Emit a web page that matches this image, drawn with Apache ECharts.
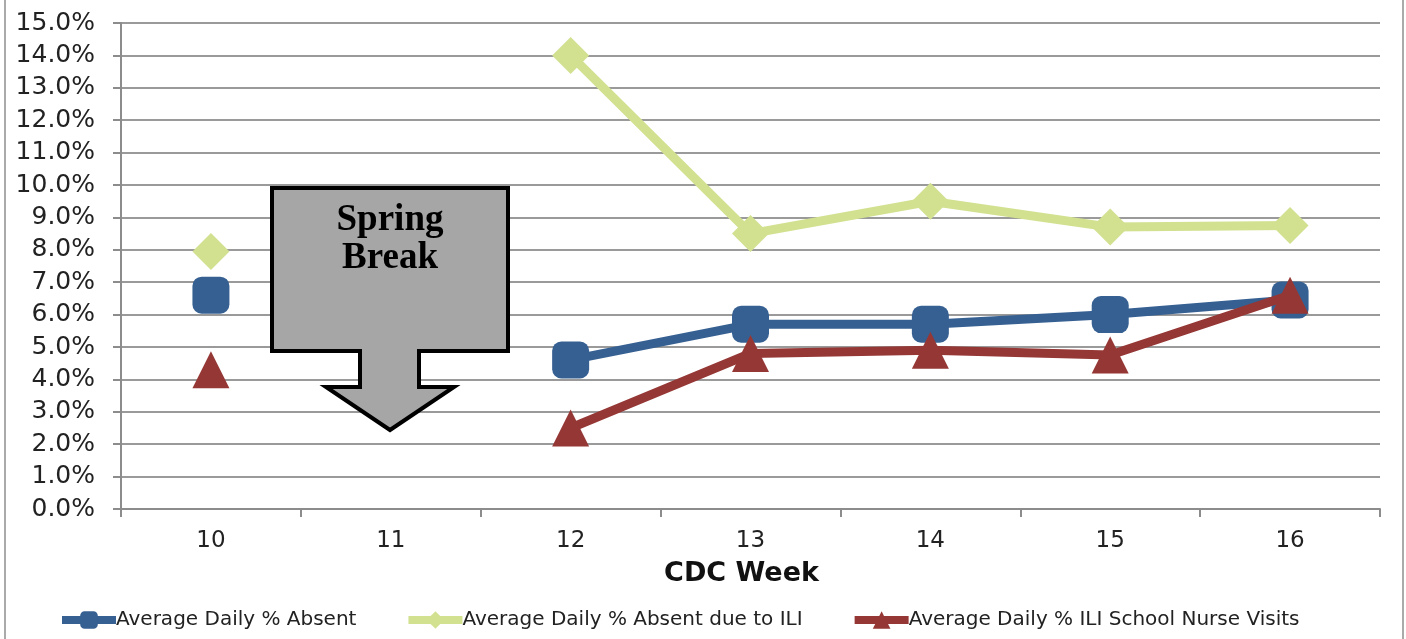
<!DOCTYPE html>
<html><head><meta charset="utf-8">
<script src="https://cdn.jsdelivr.net/npm/echarts@6/dist/echarts.min.js"></script>
<style>html,body{margin:0;padding:0;background:#fff}#c{width:1406px;height:639px}</style>
</head><body><div id="c"></div>
<script>
const weeks = ['10','11','12','13','14','15','16'];
const absent = [6.6, null, 4.6, 5.7, 5.7, 6.0, 6.45];
const absentILI = [7.95, null, 14.0, 8.5, 9.5, 8.7, 8.75];
const nurseVisits = [4.3, null, 2.5, 4.8, 4.9, 4.75, 6.6];
const seriesNames = ['Average Daily % Absent','Average Daily % Absent due to ILI','Average Daily % ILI School Nurse Visits'];
const yTickFormat = v => v.toFixed(1) + '%';

const chart = echarts.init(document.getElementById('c'));
const font = 'DejaVu Sans, Verdana, sans-serif';
chart.setOption({
  animation: false,
  backgroundColor: '#fff',
  grid: {left: 121, right: 26, top: 23, bottom: 130, containLabel: false},
  legend: {
    bottom: 4, left: 53, itemGap: 48, itemWidth: 54, itemHeight: 22,
    lineStyle: {width: 8},
    textStyle: {fontFamily: font, fontSize: 20, color: '#222', padding: [0,0,0,-5]},
    data: seriesNames
  },
  xAxis: {
    type: 'category', data: weeks, boundaryGap: true,
    name: 'CDC Week', nameLocation: 'middle', nameGap: 51,
    nameTextStyle: {fontFamily: font, fontSize: 27, fontWeight: 'bold', color: '#111', padding: [0, 18, 0, 0]},
    axisLine: {lineStyle: {color: '#8c8c8c', width: 2}},
    axisTick: {show: true, length: 8, alignWithLabel: false, lineStyle: {color: '#8c8c8c', width: 2}},
    axisLabel: {fontFamily: font, fontSize: 23, color: '#222', margin: 21}
  },
  yAxis: {
    type: 'value', min: 0, max: 15, interval: 1,
    axisLine: {show: true, lineStyle: {color: '#8c8c8c', width: 2}},
    axisTick: {show: true, length: 8, lineStyle: {color: '#8c8c8c', width: 2}},
    axisLabel: {fontFamily: font, fontSize: 25, color: '#222', margin: 26, formatter: yTickFormat},
    splitLine: {lineStyle: {color: '#9a9a9a', width: 2}}
  },
  series: [
    {name: seriesNames[0], type: 'line', data: absent, connectNulls: false,
     symbol: 'roundRect', symbolSize: 37, z: 3,
     itemStyle: {color: '#366092'}, lineStyle: {color: '#366092', width: 9}},
    {name: seriesNames[1], type: 'line', data: absentILI, connectNulls: false,
     symbol: 'diamond', symbolSize: 37, z: 2,
     itemStyle: {color: '#d1e190'}, lineStyle: {color: '#d1e190', width: 9}},
    {name: seriesNames[2], type: 'line', data: nurseVisits, connectNulls: false,
     symbol: 'triangle', symbolSize: 37, z: 4,
     itemStyle: {color: '#953735'}, lineStyle: {color: '#953735', width: 9}}
  ],
  graphic: [
    {type: 'line', shape: {x1: 5, y1: 0, x2: 5, y2: 639}, style: {stroke: '#aaa', lineWidth: 2}},
    {type: 'line', shape: {x1: 1403, y1: 0, x2: 1403, y2: 639}, style: {stroke: '#aaa', lineWidth: 2}},
    {type: 'polygon', z: 100,
     shape: {points: [[272,188],[508,188],[508,351],[419,351],[419,387],[454,387],[390,430],[326,387],[360,387],[360,351],[272,351]]},
     style: {fill: '#a6a6a6', stroke: '#000', lineWidth: 4, lineJoin: 'miter'}},
    {type: 'text', z: 101, x: 390, y: 239,
     style: {text: 'Spring\nBreak', fill: '#000', font: 'bold 37px "Liberation Serif", "Times New Roman", serif', align: 'center', verticalAlign: 'middle', lineHeight: 38}}
  ]
});
</script></body></html>
